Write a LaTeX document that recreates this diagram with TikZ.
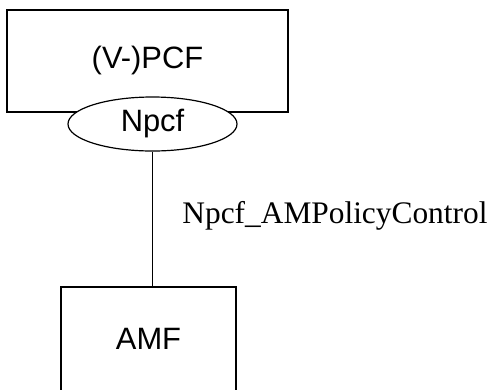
\documentclass[tikz,border=0pt]{standalone}
\usepackage{fontspec}
\setmainfont{Liberation Serif}
\setsansfont{Liberation Sans}
\usetikzlibrary{shapes}

\begin{document}
\begin{tikzpicture}[x=1bp,y=1bp,line width=1.2bp,
    nfbox/.style={draw, rectangle, font=\sffamily\fontsize{31}{36}\selectfont},
    svcif/.style={draw, ellipse, fill=white, inner sep=0pt, font=\sffamily\fontsize{31}{36}\selectfont}]
            \useasboundingbox (0,0) rectangle (491,-389);
            \node[nfbox, minimum width=281bp, minimum height=102bp] (pcf) at (147.5,-61) {(V-)PCF};
            \node[svcif, minimum width=169bp, minimum height=54bp] (npcf) at (152.5,-124) {Npcf};
            \node[nfbox, minimum width=175bp, minimum height=104bp] (amf) at (148.5,-339) {AMF};
            \draw (npcf.south) -- (npcf.south |- amf.north)
                node[pos=0.48, right=26bp, font=\rmfamily\fontsize{31.5}{36}\selectfont] (ifname) {Npcf\_AMPolicyControl};
        \end{tikzpicture}
\end{document}
